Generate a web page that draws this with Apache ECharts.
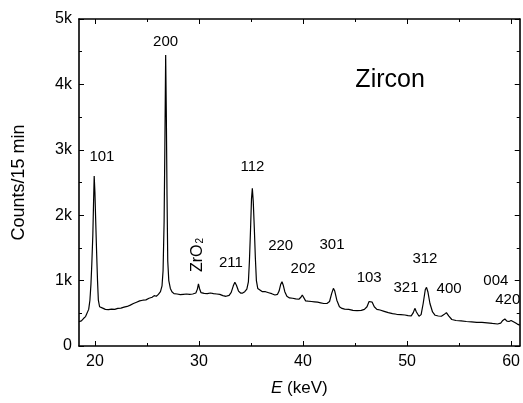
<!DOCTYPE html>
<html>
<head>
<meta charset="utf-8">
<script src="https://cdn.jsdelivr.net/npm/echarts@6/dist/echarts.min.js"></script>
<style>
html,body{margin:0;padding:0;background:#fff;}
#chart{width:523px;height:403px;}
</style>
</head>
<body>
<div id="chart"></div>
<script>
// Energy (keV) of each sampled point of the spectrum
const energies = [
  18.47,18.7,18.9,19.1,19.25,19.4,19.52,19.62,19.7,19.8,19.87,19.93,20.0,20.06,20.15,20.25,20.33,20.45,20.6,20.8,
  21.0,21.3,21.6,21.9,22.2,22.5,22.8,23.1,23.4,23.7,24.0,24.3,24.6,24.9,25.2,25.5,25.7,25.9,26.1,26.3,
  26.45,26.55,26.65,26.72,26.8,26.86,26.93,27.0,27.1,27.25,27.4,27.6,27.9,28.2,28.5,28.8,29.1,29.4,29.7,29.85,
  29.95,30.05,30.2,30.5,30.8,31.1,31.4,31.7,32.0,32.3,32.6,32.9,33.1,33.3,33.45,33.6,33.8,34.0,34.2,34.4,
  34.6,34.75,34.85,34.95,35.05,35.13,35.22,35.32,35.42,35.52,35.65,35.8,36.1,36.4,36.7,37.0,37.3,37.55,37.7,37.85,
  37.98,38.1,38.25,38.45,38.7,39.0,39.3,39.6,39.8,39.93,40.05,40.25,40.5,40.8,41.1,41.4,41.7,42.0,42.3,42.55,
  42.75,42.92,43.05,43.25,43.5,43.75,44.0,44.4,44.8,45.2,45.6,45.9,46.15,46.35,46.5,46.65,46.85,47.1,47.4,47.8,
  48.2,48.6,49.0,49.4,49.8,50.1,50.4,50.6,50.75,50.9,51.15,51.35,51.55,51.75,51.87,52.0,52.2,52.45,52.7,53.0,
  53.3,53.55,53.78,54.0,54.3,54.7,55.2,55.7,56.2,56.7,57.2,57.7,58.2,58.7,59.0,59.2,59.4,59.6,59.8,60.0,
  60.15,60.4,60.6,60.83
];
// Counts per 15 min at each energy
const counts = [
  372,385,420,450,480,560,700,950,1250,1700,2200,2600,2350,2000,1500,1000,700,600,570,575,
  560,555,565,560,575,580,595,605,625,650,670,690,700,705,730,745,770,760,790,830,
  920,1150,1900,3000,4450,3600,2300,1300,1000,880,830,800,795,785,790,795,790,795,810,870,
  950,880,815,805,800,810,800,795,790,770,760,775,820,920,975,930,840,810,810,830,
  870,980,1300,1750,2250,2410,2200,1800,1350,1000,880,850,830,830,815,800,780,790,840,940,
  983,930,830,760,735,730,720,715,745,780,750,690,685,680,675,670,660,650,650,680,
  800,882,840,700,600,575,565,560,545,540,545,560,600,680,705,670,600,560,550,530,
  510,495,485,480,474,465,460,510,576,520,455,480,650,860,897,830,650,520,470,459,
  455,480,510,460,405,390,385,375,370,360,360,355,345,336,350,390,413,380,375,390,
  380,355,335,320
];
// Axis tick values
const xMajorTicks = [20, 30, 40, 50, 60];
const xMinorTicks = [25, 35, 45, 55];
const yTicks = [0, 1000, 2000, 3000, 4000, 5000];

// Peak annotations: text with its anchor in data units (keV, counts)
const peakLabels = [
  {text: '101', e: 20.67, c: 2890},
  {text: '200', e: 26.79, c: 4648},
  {text: '112', e: 35.14, c: 2742},
  {text: '{n|ZrO}{sub|2}', e: 29.88, c: 1391, rotate: 90},
  {text: '211', e: 33.07, c: 1265},
  {text: '220', e: 37.85, c: 1529},
  {text: '202', e: 40.01, c: 1173},
  {text: '301', e: 42.79, c: 1544},
  {text: '103', e: 46.36, c: 1044},
  {text: '321', e: 49.9, c: 882},
  {text: '312', e: 51.72, c: 1330},
  {text: '400', e: 54.04, c: 867},
  {text: '004', e: 58.53, c: 994},
  {text: '420', e: 59.68, c: 703}
];
const sampleName = {text: 'Zircon', e: 48.37, c: 4067};

const X_MIN = 18.47, X_MAX = 60.83;
const FONT = 'Liberation Sans, Arial, Helvetica, sans-serif';

const chart = echarts.init(document.getElementById('chart'), null, {renderer: 'canvas'});

function xAxisDef(pos, ticks, len, showLine, showLabel) {
  return {
    type: 'value', position: pos, min: X_MIN, max: X_MAX,
    axisLine: {show: showLine, onZero: false, lineStyle: {color: '#000', width: 1.6}},
    axisTick: {show: true, inside: true, length: len, customValues: ticks, lineStyle: {color: '#000', width: 1}},
    axisLabel: {show: showLabel, customValues: ticks, color: '#000', fontSize: 16, fontFamily: FONT, margin: 8},
    splitLine: {show: false}
  };
}
function yAxisDef(pos, showLabel) {
  return {
    type: 'value', position: pos, min: 0, max: 5000, interval: 1000,
    axisLine: {show: true, onZero: false, lineStyle: {color: '#000', width: 1.6}},
    axisTick: {show: true, inside: true, length: 5, lineStyle: {color: '#000', width: 1}},
    minorTick: {show: true, splitNumber: 2, length: 3, lineStyle: {color: '#000', width: 1}},
    axisLabel: {show: showLabel, color: '#000', fontSize: 16, fontFamily: FONT, margin: 7,
      formatter: v => (v === 0 ? '0' : (v / 1000) + 'k')},
    splitLine: {show: false}, minorSplitLine: {show: false}
  };
}

const xAxes = [
  Object.assign(xAxisDef('bottom', xMajorTicks, 5, true, true), {
    name: '{it|E} (keV)', nameLocation: 'middle', nameGap: 34,
    nameTextStyle: {color: '#000', fontSize: 17, fontFamily: FONT,
      rich: {it: {fontStyle: 'italic', fontSize: 17, fontFamily: FONT, color: '#000'}}}
  }),
  xAxisDef('bottom', xMinorTicks, 3, false, false),
  xAxisDef('top', xMajorTicks, 5, true, false),
  xAxisDef('top', xMinorTicks, 3, false, false)
];
const yAxes = [
  Object.assign(yAxisDef('left', true), {
    name: 'Counts/15 min', nameLocation: 'middle', nameGap: 51, nameRotate: 90,
    nameTextStyle: {color: '#000', fontSize: 18, fontFamily: FONT}
  }),
  yAxisDef('right', false)
];

const labelBase = {
  show: true, position: [0, 0], align: 'center', verticalAlign: 'middle',
  color: '#000', fontFamily: FONT, textBorderWidth: 0
};
const labelData = peakLabels.map(p => ({
  value: [p.e, p.c],
  label: Object.assign({}, labelBase, {
    formatter: p.text, rotate: p.rotate || 0, fontSize: 15,
    rich: {
      n: {fontSize: 16, fontFamily: FONT, color: '#000'},
      sub: {fontSize: 10, fontFamily: FONT, color: '#000', verticalAlign: 'bottom', padding: [6, 0, 0, 1]}
    }
  })
}));
labelData.push({
  value: [sampleName.e, sampleName.c],
  label: Object.assign({}, labelBase, {formatter: sampleName.text, fontSize: 25})
});

chart.setOption({
  animation: false,
  backgroundColor: '#fff',
  grid: {left: 79, right: 1, top: 19, bottom: 57, containLabel: false},
  xAxis: xAxes,
  yAxis: yAxes,
  series: [
    {
      type: 'line', xAxisIndex: 0, yAxisIndex: 0,
      data: energies.map((e, i) => [e, counts[i]]),
      showSymbol: false, symbol: 'none',
      lineStyle: {color: '#000', width: 1.2},
      clip: true, z: 3
    },
    {
      type: 'scatter', xAxisIndex: 0, yAxisIndex: 0,
      symbolSize: 0, data: labelData, silent: true, z: 4,
      itemStyle: {color: '#000', opacity: 1}
    }
  ]
});
</script>
</body>
</html>
